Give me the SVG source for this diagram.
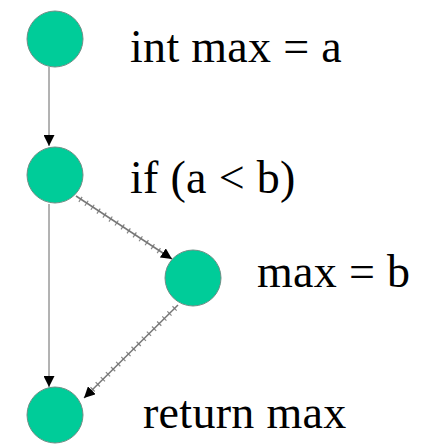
<svg xmlns="http://www.w3.org/2000/svg" width="424" height="445" viewBox="0 0 424 445">
<style>
.node circle{fill:#00cc99;stroke:#6f8f86;stroke-width:1}
.node text{font-family:"Liberation Serif","Times New Roman",serif;font-size:46px;fill:#000;letter-spacing:0.3px}
.solid{stroke:#666;stroke-width:1;fill:none}
.tick{stroke:#777;stroke-width:1.5;fill:none}
.tickx{stroke:#888;stroke-width:6;fill:none;stroke-dasharray:1.2 6}
</style>
<defs>
<marker id="ah" viewBox="0 0 10 10" refX="10" refY="5" markerWidth="11" markerHeight="11" markerUnits="userSpaceOnUse" orient="auto">
<path d="M0,0 L10,5 L0,10 z" fill="#000"/>
</marker>
</defs>
<rect width="424" height="445" fill="#fff"/>
<g id="connectors">
<line class="solid" x1="49" y1="67" x2="49" y2="146" marker-end="url(#ah)"/>
<line class="solid" x1="49" y1="204" x2="49" y2="387" marker-end="url(#ah)"/>
<line class="tickx" x1="80" y1="199" x2="164" y2="254"/>
<line class="tick" x1="76" y1="196" x2="172" y2="259" marker-end="url(#ah)"/>
<line class="tickx" x1="175" y1="308" x2="92" y2="390"/>
<line class="tick" x1="178" y1="305" x2="84" y2="398" marker-end="url(#ah)"/>
</g>
<g id="n1" class="node"><circle cx="55" cy="39" r="28"/><text x="130" y="62">int max = a</text></g>
<g id="n2" class="node"><circle cx="55" cy="175" r="28"/><text x="130" y="193">if (a &lt; b)</text></g>
<g id="n3" class="node"><circle cx="193" cy="278" r="28"/><text x="257" y="287">max = b</text></g>
<g id="n4" class="node"><circle cx="55" cy="415" r="28"/><text x="143" y="428">return max</text></g>
</svg>
